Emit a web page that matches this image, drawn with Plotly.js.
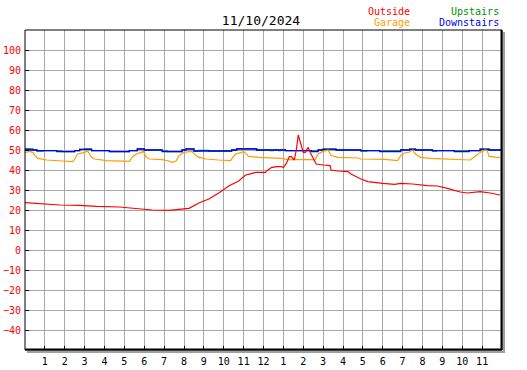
<!DOCTYPE html>
<html>
<head>
<meta charset="utf-8">
<script src="https://cdn.plot.ly/plotly-3.0.1.min.js"></script>
<style>html,body{margin:0;padding:0;background:#fff;}#chart{width:527px;height:370px;}</style>
</head>
<body>
<div id="chart"></div>
<script>
const chartTitle = '11/10/2024';

const hourTicks = [1,2,3,4,5,6,7,8,9,10,11,12,13,14,15,16,17,18,19,20,21,22,23];
const hourLabels = ['1','2','3','4','5','6','7','8','9','10','11','12','1','2','3','4','5','6','7','8','9','10','11'];
const tempTicks = [-40,-30,-20,-10,0,10,20,30,40,50,60,70,80,90,100];

const outsideHours = [0,0.6,1.4,1.75,2.75,3.6,4.75,5.6,6.4,7.25,7.9,8.25,8.75,9.25,9.75,10.25,10.75,11.1,11.25,11.6,12.1,12.15,12.4,12.65,12.9,13.0,13.15,13.3,13.4,13.55,13.65,13.75,13.85,14.0,14.1,14.25,14.35,14.5,14.65,15.0,15.35,15.4,15.75,16.25,16.4,16.9,17.25,18.0,18.6,18.9,19.5,20.25,20.75,21.25,21.9,22.25,22.9,23.4,23.9];
const outsideTemps = [23.7,23.3,23.0,22.5,22.3,21.8,21.5,20.8,20.0,19.8,20.3,20.8,23.5,25.5,28.5,32,34.5,37.5,37.8,38.8,38.8,39.5,41.2,41.7,41.7,41.2,43.3,46.7,46.7,45,50,57.5,54,48.8,48.8,51.3,48.8,45.8,43,42.5,42.2,40,39.5,39.2,38,35.5,34.2,33.3,32.8,33.3,33,32.2,32,30.8,29,28.5,29.2,28.5,27.5];

const garageHours = [0,0.25,0.4,0.5,0.65,1.1,1.9,2.4,2.5,2.65,3.0,3.15,3.35,3.5,4.1,5.25,5.4,5.6,5.85,5.95,6.1,6.25,6.9,7.25,7.4,7.6,7.75,8.0,8.4,8.6,8.75,9.1,9.75,10.35,10.45,10.6,10.9,11.0,11.25,11.75,12.9,13.25,14.6,14.75,15.0,15.25,15.4,15.75,16.75,16.9,18.1,18.75,18.9,19.1,19.35,19.5,19.65,19.9,20.4,21.6,22.4,22.6,22.9,23.15,23.25,23.35,23.9];
const garageTemps = [48.8,49.3,48.8,47.2,45.8,45,44.5,44.2,45.5,48,48.8,49.5,46.3,45.5,44.7,44.3,46.5,48,48.8,49.3,46.5,45.5,45.2,44.5,43.8,44.5,47.2,48.8,49.3,47.2,46.3,45.5,45,44.7,46.3,48,48.8,49.3,46.8,46.3,45.8,45.2,45.2,48,49.3,50,47.2,46.3,46,45.5,45.3,44.7,47.2,48.5,49,50,48,46.3,45.8,45.5,45,46.5,48.8,50,49.8,46.8,46.2];

const upstairsHours = [0,0.4,0.6,0.9,1.6,1.85,2.5,2.75,3.0,3.35,4.25,5.25,5.65,6.0,6.9,7.15,7.9,8.1,8.5,8.75,9.25,10.4,10.65,11.65,12.35,12.5,12.75,12.85,13.1,14.4,14.75,15.0,15.65,16.9,17.2,17.85,18.9,19.35,19.65,20.5,20.7,21.6,22.35,22.9,23.35,24];
const upstairsTemps = [50.6,50,49.5,49.7,49.6,49.2,49.7,50.3,50.6,49.7,49.2,49.7,50.6,50,49.6,49.2,50,50.6,49.5,49.8,49.5,50,50.7,50,49.7,50,49.7,50,49.7,49.5,50,50.6,50,49.5,49.7,49.6,50,50.6,50,49.5,49.7,49.6,49.7,50.6,50,50];

const downstairsHours = [0,0.25,0.6,1.6,2.5,2.75,3.35,4.25,5.25,5.65,6.0,6.9,7.9,8.1,8.5,10.4,10.65,11.65,13.1,14.4,14.75,15.0,15.65,16.9,17.85,18.9,19.35,19.65,20.5,21.6,22.35,22.9,23.35,24];
const downstairsTemps = [50.3,50,49.7,49.2,49.7,50.3,49.7,49.2,49.7,50.5,50,49.2,50,50.5,49.5,50,50.5,50,49.7,49.2,50,50.3,50,49.7,49.2,50,50.3,50,49.7,49.2,49.7,50.3,50,50];

const seriesNames = ['Outside','Garage','Upstairs','Downstairs'];
const seriesColors = {Outside:'#ff0000', Garage:'#ff9c00', Upstairs:'#009000', Downstairs:'#0000ff'};

const mono = 'DejaVu Sans Mono, monospace';

const traces = [
  {x: upstairsHours, y: upstairsTemps, name: 'Upstairs', mode:'lines', line:{color:seriesColors.Upstairs, width:1.3, shape:'hv'}},
  {x: downstairsHours, y: downstairsTemps, name: 'Downstairs', mode:'lines', line:{color:seriesColors.Downstairs, width:1.3, shape:'hv'}},
  {x: garageHours, y: garageTemps, name: 'Garage', mode:'lines', line:{color:seriesColors.Garage, width:1.2}},
  {x: outsideHours, y: outsideTemps, name: 'Outside', mode:'lines', line:{color:seriesColors.Outside, width:1.2}}
];

// pixel helpers for plot area 25..502 x 30..350
const PW = 477, PH = 320;
const px = p => (p - 25) / PW;
const py = p => (350 - p) / PH;

const legendPos = {
  Outside:{x:411, y:11}, Garage:{x:411, y:23}, Upstairs:{x:500, y:11}, Downstairs:{x:500, y:23}
};
const annotations = seriesNames.map(n => ({
  text: n, xref:'paper', yref:'paper', x: px(legendPos[n].x), y: py(legendPos[n].y),
  xanchor:'right', yanchor:'middle', showarrow:false, borderpad:0,
  font:{family:mono, size:10, color:seriesColors[n]}
}));

const layout = {
  width:527, height:370,
  margin:{l:25, r:25, t:30, b:20, pad:0},
  paper_bgcolor:'#ffffff', plot_bgcolor:'#ffffff',
  showlegend:false,
  title:{text:chartTitle, font:{family:mono, size:13, color:'#000'}, xref:'container', x:261/527, xanchor:'center', yref:'container', y:1-20.5/370, yanchor:'middle'},
  xaxis:{range:[0,24], tickmode:'array', tickvals:hourTicks, ticktext:hourLabels, showgrid:true, gridcolor:'#a8a8a8', gridwidth:1,
    ticks:'inside', ticklen:4, tickwidth:1, tickcolor:'#000', zeroline:false, showline:false, fixedrange:true,
    tickfont:{family:mono, size:10, color:'#000'}, ticklabelstandoff:4},
  yaxis:{range:[-50,110], tickmode:'array', tickvals:tempTicks, showgrid:true, gridcolor:'#a8a8a8', gridwidth:1,
    ticks:'inside', ticklen:4, tickwidth:1, tickcolor:'#000', zeroline:false, showline:false, fixedrange:true,
    tickfont:{family:mono, size:10, color:'#ff0000'}, ticklabelstandoff:3},
  annotations: annotations,
  shapes:[
    {type:'line', xref:'paper', yref:'paper', x0:px(27), x1:px(505), y0:py(352), y1:py(352), line:{color:'#a0a0a0', width:2}, layer:'above'},
    {type:'line', xref:'paper', yref:'paper', x0:px(504), x1:px(504), y0:py(352), y1:py(32), line:{color:'#a0a0a0', width:2}, layer:'above'},
    {type:'rect', xref:'paper', yref:'paper', x0:0, x1:1, y0:0, y1:1, line:{color:'#000', width:1}, layer:'above'},
    {type:'line', xref:'paper', yref:'paper', x0:0, x1:1, y0:py(349.5), y1:py(349.5), line:{color:'#000', width:2}, layer:'above'},
    {type:'line', xref:'paper', yref:'paper', x0:px(501.5), x1:px(501.5), y0:0, y1:1, line:{color:'#000', width:2}, layer:'above'}
  ]
};

Plotly.newPlot('chart', traces, layout, {staticPlot:true, displayModeBar:false});
</script>
</body>
</html>
